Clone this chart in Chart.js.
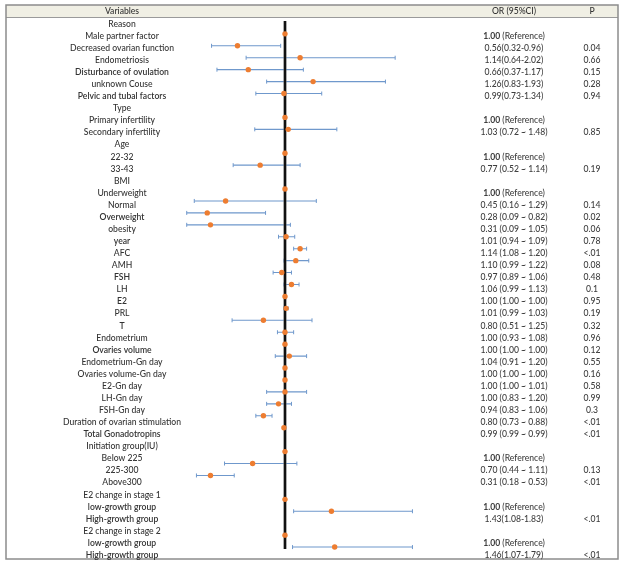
<!DOCTYPE html>
<html>
<head>
<meta charset="utf-8">
<script src="https://cdn.jsdelivr.net/npm/chart.js@4.4.1/dist/chart.umd.min.js"></script>
<style>
  html, body { margin: 0; padding: 0; background: #fff; }
  canvas { display: block; }
</style>
</head>
<body>
<canvas id="forest" width="624" height="564"></canvas>
<script>
// ---------------- data (one entry per table row)
var rowLabels = [
  'Reason', 'Male partner factor', 'Decreased ovarian function', 'Endometriosis',
  'Disturbance of ovulation', 'unknown Couse', 'Pelvic and tubal factors',
  'Type', 'Primary infertility', 'Secondary infertility',
  'Age', '22-32', '33-43',
  'BMI', 'Underweight', 'Normal', 'Overweight', 'obesity',
  'year', 'AFC', 'AMH', 'FSH', 'LH', 'E2', 'PRL', 'T', 'Endometrium',
  'Ovaries volume', 'Endometrium-Gn day', 'Ovaries volume-Gn day', 'E2-Gn day',
  'LH-Gn day', 'FSH-Gn day', 'Duration of ovarian stimulation', 'Total Gonadotropins',
  'Initiation group(IU)', 'Below 225', '225-300', 'Above300',
  'E2 change in stage 1', 'low-growth group', 'High-growth group',
  'E2 change in stage 2', 'low-growth group', 'High-growth group'
];
// odds ratio point as plotted
var orPoint = [
  null, 1.00, 0.56, 1.14, 0.66, 1.26, 0.99,
  null, 1.00, 1.03,
  null, 1.00, 0.77,
  null, 1.00, 0.45, 0.28, 0.31,
  1.01, 1.14, 1.10, 0.97, 1.06, 1.00, 1.01, 0.80, 1.00,
  1.00, 1.04, 1.00, 1.00,
  1.00, 0.94, 0.80, 0.99,
  null, 1.00, 0.70, 0.31,
  null, 1.00, 1.43,
  null, 1.00, 1.46
];
// whisker ends as drawn
var ciLow = [
  null, null, 0.32, 0.64, 0.37, 0.83, 0.73,
  null, null, 0.72,
  null, null, 0.52,
  null, null, 0.16, 0.09, 0.09,
  0.94, 1.08, 0.99, 0.89, 0.99, null, 0.99, 0.51, 0.93,
  null, 0.91, null, 1.00,
  0.83, 0.83, 0.73, null,
  null, null, 0.44, 0.18,
  null, null, 1.08,
  null, null, 1.07
];
var ciHigh = [
  null, null, 0.96, 2.02, 1.17, 1.93, 1.34,
  null, null, 1.48,
  null, null, 1.14,
  null, null, 1.29, 0.82, 1.05,
  1.09, 1.20, 1.22, 1.06, 1.13, null, 1.03, 1.25, 1.08,
  null, 1.20, null, 1.01,
  1.20, 1.06, 0.88, null,
  null, null, 1.11, 0.53,
  null, null, 2.18,
  null, null, 2.18
];
var orText = [
  '', '1.00 (Reference)', '0.56(0.32-0.96)', '1.14(0.64-2.02)', '0.66(0.37-1.17)', '1.26(0.83-1.93)', '0.99(0.73-1.34)',
  '', '1.00 (Reference)', '1.03 (0.72 ~ 1.48)',
  '', '1.00 (Reference)', '0.77 (0.52 ~ 1.14)',
  '', '1.00 (Reference)', '0.45 (0.16 ~ 1.29)', '0.28 (0.09 ~ 0.82)', '0.31 (0.09 ~ 1.05)',
  '1.01 (0.94 ~ 1.09)', '1.14 (1.08 ~ 1.20)', '1.10 (0.99 ~ 1.22)', '0.97 (0.89 ~ 1.06)',
  '1.06 (0.99 ~ 1.13)', '1.00 (1.00 ~ 1.00)', '1.01 (0.99 ~ 1.03)', '0.80 (0.51 ~ 1.25)',
  '1.00 (0.93 ~ 1.08)', '1.00 (1.00 ~ 1.00)', '1.04 (0.91 ~ 1.20)', '1.00 (1.00 ~ 1.00)',
  '1.00 (1.00 ~ 1.01)', '1.00 (0.83 ~ 1.20)', '0.94 (0.83 ~ 1.06)', '0.80 (0.73 ~ 0.88)',
  '0.99 (0.99 ~ 0.99)',
  '', '1.00 (Reference)', '0.70 (0.44 ~ 1.11)', '0.31 (0.18 ~ 0.53)',
  '', '1.00 (Reference)', '1.43(1.08-1.83)',
  '', '1.00 (Reference)', '1.46(1.07-1.79)'
];
var pText = [
  '', '', '0.04', '0.66', '0.15', '0.28', '0.94',
  '', '', '0.85',
  '', '', '0.19',
  '', '', '0.14', '0.02', '0.06',
  '0.78', '<.01', '0.08', '0.48', '0.1', '0.95', '0.19', '0.32', '0.96',
  '0.12', '0.55', '0.16', '0.58',
  '0.99', '0.3', '<.01', '<.01',
  '', '', '0.13', '<.01',
  '', '', '<.01',
  '', '', '<.01'
];
var headers = ['Variables', 'OR (95%CI)', 'P'];

// ---------------- styling / layout
var FONT = 'Lato, "Open Sans", sans-serif';
var FS = 8.6;
var boldRows = [4, 6, 16, 18, 21, 23, 25, 27, 34, 40, 41, 43, 44]; // zero based
var nRows = rowLabels.length;
var area = {top: 10, bottom: 5, left: 177, right: 209.4}; // chart area padding
var textFirst = 24, textStep = 12.07;                    // table rows
var plotH = 564 - area.top - area.bottom;
var ytMin = 1 - (textFirst - area.top) / textStep;
var ytMax = ytMin + plotH / textStep;

function font(w){ return w + ' ' + FS + 'px ' + FONT; }

// ---------------- build datasets
var dots = [], caps = [], whiskers = [];
for (var i = 0; i < nRows; i++) {
  var r = i + 1;
  if (orPoint[i] !== null) dots.push({x: orPoint[i], y: r});
  if (ciLow[i] !== null) {
    whiskers.push({x: ciLow[i], y: r}, {x: ciHigh[i], y: r}, {x: null, y: null});
    caps.push({x: ciLow[i], y: r}, {x: ciHigh[i], y: r});
  }
}
var refLine = [{x: 1, y: 0.92}, {x: 1, y: 45.17}];

// ---------------- table drawing (frame + text columns)
var tablePlugin = {
  id: 'table',
  beforeDraw: function (chart) {
    var ctx = chart.ctx;
    ctx.save();
    ctx.fillStyle = '#ffffff';
    ctx.fillRect(0, 0, chart.width, chart.height);
    ctx.fillStyle = '#f0efe4';
    ctx.fillRect(6, 5, 612, 12);
    ctx.strokeStyle = '#9a9a9a';
    ctx.lineWidth = 1;
    ctx.beginPath();
    ctx.moveTo(6, 17.5); ctx.lineTo(618, 17.5);
    ctx.stroke();
    ctx.strokeStyle = '#8c8c8c';
    ctx.lineWidth = 1.5;
    ctx.strokeRect(6, 5, 612, 554);
    ctx.restore();
  },
  afterDraw: function (chart) {
    var ctx = chart.ctx, yt = chart.scales.yt;
    ctx.save();
    ctx.textBaseline = 'middle';
    ctx.textAlign = 'center';
    ctx.fillStyle = '#333333';
    ctx.font = font(500);
    ctx.fillText(headers[0], 122, 11.5);
    ctx.fillText(headers[1], 514, 11.5);
    ctx.fillText(headers[2], 592, 11.5);
    for (var i = 0; i < nRows; i++) {
      var y = yt.getPixelForValue(i + 1);
      ctx.textAlign = 'center';
      ctx.fillStyle = '#333333';
      ctx.font = font(boldRows.indexOf(i) >= 0 ? 600 : 500);
      ctx.fillText(rowLabels[i], 122, y);
      ctx.fillStyle = '#3d3d3d';
      var t = orText[i];
      if (t.indexOf('Reference') >= 0) {
        // bold value, plain "(Reference)"
        var a = t.slice(0, 4), b = t.slice(4);
        ctx.font = font(700);
        var wa = ctx.measureText(a).width;
        ctx.font = font(500);
        var wb = ctx.measureText(b).width;
        var x0 = 514 - (wa + wb) / 2;
        ctx.textAlign = 'left';
        ctx.font = font(700);
        ctx.fillText(a, x0, y);
        ctx.font = font(500);
        ctx.fillText(b, x0 + wa, y);
      } else if (t) {
        ctx.font = font(500);
        ctx.fillText(t, 514, y);
      }
      ctx.textAlign = 'center';
      ctx.font = font(500);
      if (pText[i]) ctx.fillText(pText[i], 592, y);
    }
    ctx.restore();
  }
};

new Chart(document.getElementById('forest'), {
  type: 'scatter',
  data: {
    datasets: [
      {label: 'OR', data: dots, order: 0, pointStyle: 'circle', pointRadius: 2.7,
       pointBackgroundColor: '#ed7d31', pointBorderColor: '#ed7d31', pointBorderWidth: 0},
      {label: 'ref', data: refLine, type: 'line', order: 1, borderColor: '#111111',
       borderWidth: 2.2, pointRadius: 0},
      {label: 'ref halo', data: refLine, type: 'line', order: 2, borderColor: 'rgba(120,120,120,0.6)',
       borderWidth: 3.6, pointRadius: 0},
      {label: 'CI', data: whiskers, type: 'line', order: 3, borderColor: '#6f98cc',
       borderWidth: 1.1, pointRadius: 0, spanGaps: false},
      {label: 'caps', data: caps, order: 3, pointStyle: 'line', pointRotation: 90, pointRadius: 2,
       pointBorderColor: '#6f98cc', pointBorderWidth: 1}
    ]
  },
  options: {
    responsive: false,
    animation: false,
    devicePixelRatio: 1,
    layout: {padding: area},
    plugins: {legend: {display: false}, tooltip: {enabled: false}},
    scales: {
      x: {type: 'linear', display: false, min: 0, max: 2.2},
      y: {type: 'linear', display: false, reverse: true, min: 0, max: 46},
      yt: {type: 'linear', display: false, reverse: true, min: ytMin, max: ytMax}
    }
  },
  plugins: [tablePlugin]
});
</script>
</body>
</html>
